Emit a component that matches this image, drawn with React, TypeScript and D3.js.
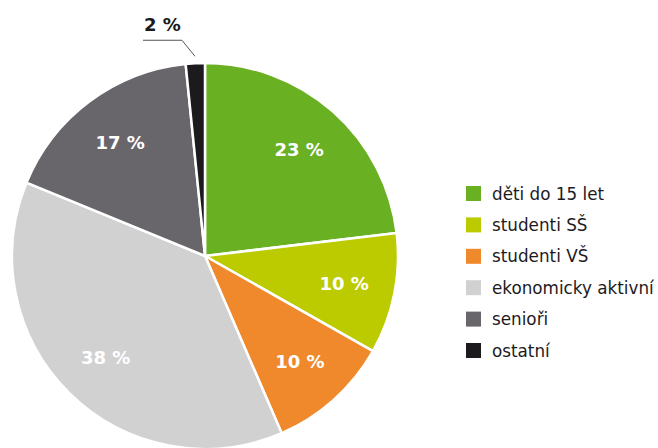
import React from "react";
import * as d3 from "d3";

const categories = ["děti do 15 let", "studenti SŠ", "studenti VŠ", "ekonomicky aktivní", "senioři", "ostatní"];
const values = [23.1, 10.1, 10.3, 37.7, 17.2, 1.6];
const colors = ["#6ab023", "#bccb00", "#f0882c", "#d1d1d1", "#69666b", "#1d1a1e"];
const insideLabel = [true, true, true, true, true, false];

const W = 658;
const H = 448;
const cx = 205;
const cy = 256;
const R = 193;
const labelR = 142;

export default function App() {
  const pie = d3.pie<number>().sort(null).value((d) => d).startAngle(0).endAngle(2 * Math.PI);
  const arcs = pie(values);
  const arc = d3.arc<d3.PieArcDatum<number>>().innerRadius(0).outerRadius(R);
  const labelArc = d3.arc<d3.PieArcDatum<number>>().innerRadius(labelR).outerRadius(labelR);
  const outerArc = d3.arc<d3.PieArcDatum<number>>().innerRadius(R + 7).outerRadius(R + 7);

  return (
    <svg width={W} height={H} style={{ position: "absolute", left: 0, top: 0 }}>
      <g transform={`translate(${cx},${cy})`}>
        {arcs.map((a, i) => (
          <path key={i} d={arc(a) || ""} fill={colors[i]} stroke="#fff" strokeWidth={2.5} strokeLinejoin="round" />
        ))}
        {arcs.map((a, i) => {
          const label = `${Math.round(values[i])} %`;
          if (insideLabel[i]) {
            const [x, y] = labelArc.centroid(a);
            return (
              <text key={"l" + i} x={x} y={y} dy="0.36em" textAnchor="middle" fill="#fff"
                fontFamily="DejaVu Sans" fontWeight="bold" fontSize={18}>
                {label}
              </text>
            );
          }
          const [x1, y1] = outerArc.centroid(a);
          const x2 = x1 - 13;
          const y2 = y1 - 16;
          const x3 = x2 - 39;
          return (
            <g key={"l" + i}>
              <polyline points={`${x1},${y1} ${x2},${y2} ${x3},${y2}`} fill="none" stroke="#555" strokeWidth={1} />
              <text x={(x2 + x3) / 2} y={y2 - 9} textAnchor="middle" fill="#1d1a1e"
                fontFamily="DejaVu Sans" fontWeight="bold" fontSize={18}>
                {label}
              </text>
            </g>
          );
        })}
      </g>
      <g transform="translate(466,186)">
        {categories.map((c, i) => (
          <g key={c} transform={`translate(0,${i * 31.4})`}>
            <rect x={0} y={0} width={15} height={15} fill={colors[i]} />
            <text x={26} y={13.5} fontFamily="DejaVu Sans" fontSize={16.8} fill="#1d1a1e">{c}</text>
          </g>
        ))}
      </g>
    </svg>
  );
}
